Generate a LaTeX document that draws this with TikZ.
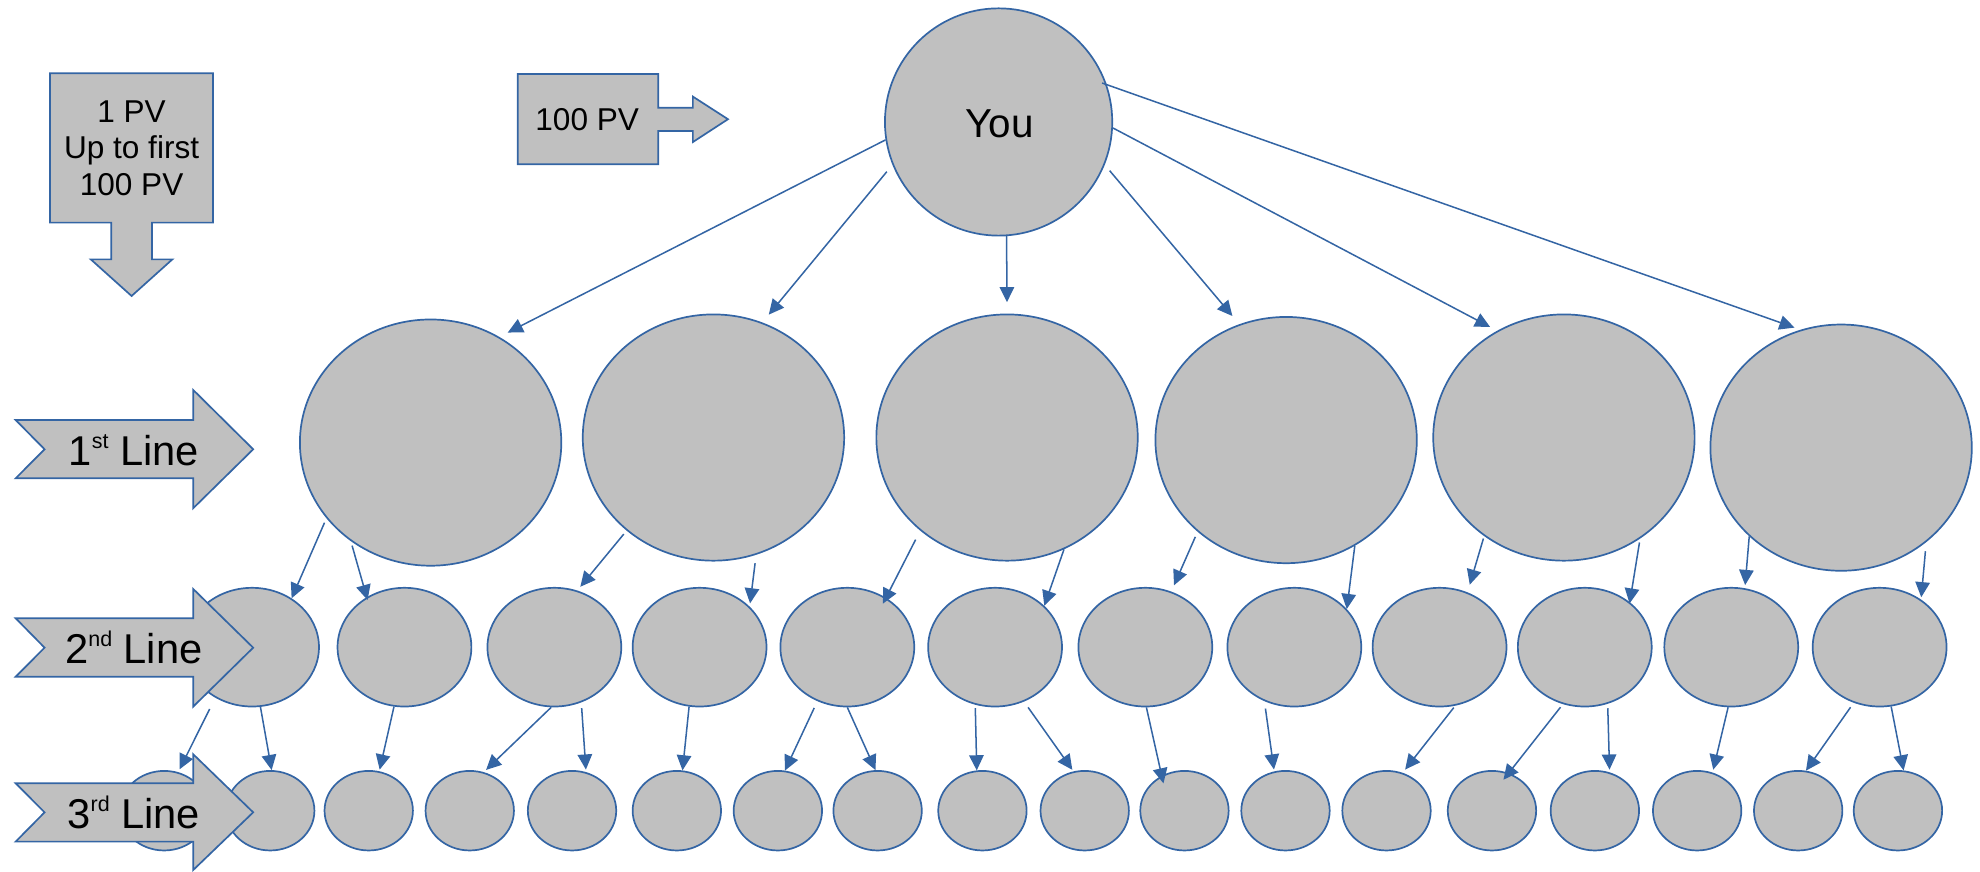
\documentclass[tikz,border=0pt]{standalone}
\usepackage{fontspec}
\setmainfont{Liberation Sans}
\usetikzlibrary{arrows.meta,shapes.geometric}
\definecolor{lblue}{RGB}{52,101,164}
\definecolor{lgray}{RGB}{192,192,192}
\newcommand\supx[1]{\raisebox{13pt}{\fontsize{17}{17}\selectfont #1}}
\begin{document}
\begin{tikzpicture}[x=1pt,y=-1pt,
  bub/.style={ellipse, draw=lblue, fill=lgray, line width=1.35pt, inner sep=0pt},
  big/.style={bub, minimum width=207pt, minimum height=195pt},
  mid/.style={bub, minimum width=106pt, minimum height=94pt},
  sml/.style={bub, minimum width=70pt, minimum height=63pt},
  conn/.style={draw=lblue, line width=1.2pt, -{Triangle[length=12pt,width=11.5pt]}},
  shp/.style={draw=lblue, fill=lgray, line width=1.35pt, line join=miter},
  lbl/.style={font=\fontsize{33}{38}\selectfont, inner sep=0pt, anchor=base},
  pvt/.style={font=\fontsize{25}{29.2}\selectfont, inner sep=0pt, align=center},
]
\path[use as bounding box] (0,0) rectangle (1568,690);

% top circle
\node[bub, minimum width=180pt, minimum height=180pt] (you) at (790.8,96.6) {};
\node[font=\fontsize{32}{38}\selectfont, inner sep=0pt, anchor=base] (youtxt) at (791.4,108.8) {You};

% first line
\node[big] (fa) at (341,350.5) {};
\node[big] (fb) at (565,346.5) {};
\node[big] (fc) at (797.5,346.5) {};
\node[big] (fd) at (1018.5,348.5) {};
\node[big] (fe) at (1238.5,346.5) {};
\node[big] (ff) at (1458,354.5) {};

% second line
\foreach \n/\x in {sa/199.6,sb/320.3,sc/439,sd/554,se/671,sf/788,sg/907,sh/1025,si/1140,sj/1255,sk/1371,sl/1488.5}
  \node[mid] (\n) at (\x,512.5) {};

% third line
\foreach \n/\x in {ta/130,tb/214,tc/292,td/372,te/453,tf/536,tg/616,th/695,ti/778,tj/859,tk/938,tl/1018,tm/1098,tn/1181.5,to/1263,tp/1344,tq/1424,tr/1503}
  \node[sml] (\n) at (\x,642) {};

% connectors: you -> first line
\draw[conn, shorten >=7.5pt] (you.189.4) -- (fa.57.1);
\draw[conn, shorten <=7pt, shorten >=8pt] (you.202.2) -- (fb.67.9);
\draw[conn, shorten >=9pt] (you.274.3) -- (fc.90);
\draw[conn, shorten <=6pt, shorten >=8.5pt] (you.338.9) -- (fd.112.2);
\draw[conn, shorten >=6.3pt] (you.357.2) -- (fe.122.4);
\draw[conn, shorten <=-4pt, shorten >=5pt] (you.19.5) -- (ff.109.7);

% first -> second
\draw[conn, shorten <=3.8pt] (fa.216.9) -- (sa.51);
\draw[conn, shorten <=3.7pt, shorten >=-2.4pt] (fa.231.4) -- (sb.127.9);
\draw[conn, shorten <=3.5pt, shorten >=3.8pt] (fb.227.9) -- (sc.68.6);
\draw[conn, shorten <=6.7pt, shorten >=2.6pt] (fb.290.3) -- (sd.39.2);
\draw[conn, shorten <=8pt, shorten >=-5.3pt] (fc.227.2) -- (se.52.6);
\draw[conn] (fc.297.2) -- (sf.40.7);
\draw[conn, shorten <=4.4pt, shorten >=5.4pt] (fd.226.2) -- (sg.65.6);
\draw[conn] (fd.303.6) -- (sh.36.4);
\draw[conn, shorten <=2pt, shorten >=6.3pt] (fe.231.4) -- (si.63.1);
\draw[conn, shorten <=3.1pt, shorten >=-1.1pt] (fe.307.5) -- (sj.45.6);
\draw[conn, shorten >=2.5pt] (ff.224.4) -- (sk.77.2);
\draw[conn, shorten <=7.2pt, shorten >=1.8pt] (ff.312.2) -- (sl.49.6);

% second -> third
\draw[conn, shorten <=10pt, shorten >=2.5pt] (sa.234.2) -- (ta.70.5);
\draw[conn] (sa.278.9) -- (tb.88.6);
\draw[conn, shorten >=1.3pt] (sb.260) -- (tc.75);
\draw[conn, shorten >=2.5pt] (sc.267.1) -- (td.70.3);
\draw[conn, shorten <=4.5pt, shorten >=2pt] (sc.296.2) -- (te.70.5);
\draw[conn] (sd.260.6) -- (tf.82.8);
\draw[conn, shorten <=5.9pt] (se.241.3) -- (tg.80.2);
\draw[conn] (se.270) -- (th.93.2);
\draw[conn, shorten <=2.6pt] (sf.251.1) -- (ti.98.1);
\draw[conn, shorten <=5.6pt, shorten >=1.5pt] (sf.298.1) -- (tj.106.7);
\draw[conn, shorten >=-6.3pt] (sg.271) -- (tk.123.4);
\draw[conn, shorten <=5.9pt, shorten >=1.5pt] (sh.241.3) -- (tl.106.5);
\draw[conn, shorten <=1.9pt, shorten >=3.2pt] (si.285.8) -- (tm.67.1);
\draw[conn, shorten <=3.1pt, shorten >=-6.8pt] (sj.249) -- (tn.66.9);
\draw[conn, shorten <=3.5pt, shorten >=2.1pt] (sj.292.5) -- (to.69.9);
\draw[conn, shorten >=2.3pt] (sk.267.6) -- (tp.68.5);
\draw[conn, shorten <=4.3pt] (sl.245.2) -- (tq.79.5);
\draw[conn] (sl.281.7) -- (tr.82.1);

% down arrow "1 PV"
\draw[shp] (39.6,58) -- (168.7,58) -- (168.7,176.3) -- (120.4,176.3) -- (120.4,205.4)
  -- (136.5,205.4) -- (104.2,234.4) -- (71.9,205.4) -- (88.1,205.4) -- (88.1,176.3)
  -- (39.6,176.3) -- cycle;
\node[pvt] (pvdown) at (104.2,117.4) {1 PV\\Up to first\\100 PV};

% right arrow "100 PV"
\draw[shp] (410,58.6) -- (521.2,58.6) -- (521.2,85.3) -- (548.7,85.3) -- (548.7,76.5)
  -- (576.5,94.4) -- (548.7,112.5) -- (548.7,103.7) -- (521.2,103.7) -- (521.2,130.1)
  -- (410,130.1) -- cycle;
\node[font=\fontsize{25}{29}\selectfont, inner sep=0pt, anchor=base] (pvright) at (465,103.5) {100 PV};

% line labels
\draw[shp] (12.4,332.6) -- (153,332.6) -- (153,308.8) -- (200.5,355.8) -- (153,402.5)
  -- (153,378.8) -- (12.4,378.8) -- (35.3,355.8) -- cycle;
\node[lbl] (l1txt) at (106,368.5) {1\supx{st} Line};

\draw[shp] (12.4,489.6) -- (153,489.6) -- (153,466.4) -- (200.5,512.9) -- (153,559.6)
  -- (153,535.9) -- (12.4,535.9) -- (35.3,512.9) -- cycle;
\node[lbl] (l2txt) at (106,525.3) {2\supx{nd} Line};

\draw[shp] (12.4,620.3) -- (153,620.3) -- (153,597.3) -- (200.5,643.3) -- (153,689)
  -- (153,666.5) -- (12.4,666.5) -- (35.3,643.3) -- cycle;
\node[lbl] (l3txt) at (106,656) {3\supx{rd} Line};
\end{tikzpicture}
\end{document}
